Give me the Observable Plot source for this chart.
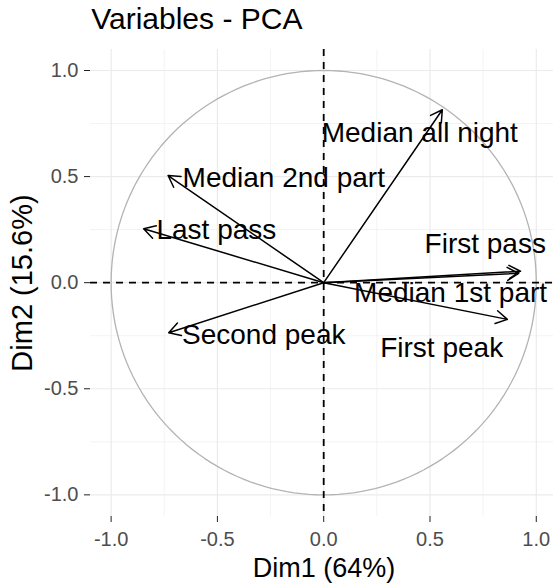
<!DOCTYPE html>
<html><head><meta charset="utf-8">
<script src="https://cdn.jsdelivr.net/npm/d3@7"></script>
<script src="https://cdn.jsdelivr.net/npm/@observablehq/plot@0.6"></script>
<style>body{margin:0;background:#fff;}</style>
</head><body><div id="chart"></div>
<script>
const variables = ["Median all night", "Median 2nd part", "Last pass", "First pass", "Median 1st part", "Second peak", "First peak"];
const dim1 = [0.558, -0.732, -0.847, 0.926, 0.917, -0.729, 0.864];
const dim2 = [0.815, 0.505, 0.254, 0.054, 0.044, -0.236, -0.173];
const labelDim1 = [0.452, -0.188, -0.505, 0.760, 0.597, -0.282, 0.555];
const labelDim2 = [0.703, 0.494, 0.247, 0.184, -0.051, -0.247, -0.307];
const axisTicks = [-1, -0.5, 0, 0.5, 1];
const minorTicks = [-0.75, -0.25, 0.25, 0.75];
const chartTitle = "Variables - PCA";
const xTitle = "Dim1 (64%)";
const yTitle = "Dim2 (15.6%)";

const rows = variables.map((name, i) => ({name, x: dim1[i], y: dim2[i], lx: labelDim1[i], ly: labelDim2[i]}));
const circle = d3.range(0, 361, 2).map(a => ({x: Math.cos(a * Math.PI / 180), y: Math.sin(a * Math.PI / 180)}));
const fmt = d => d.toFixed(1);

const chart = Plot.plot({
  width: 553, height: 584,
  marginLeft: 90, marginRight: 0, marginTop: 49, marginBottom: 68,
  x: {domain: [-1.097, 1.081]},
  y: {domain: [-1.102, 1.099]},
  style: {fontFamily: "Liberation Sans, Arial, sans-serif", background: "white"},
  marks: [
    Plot.ruleX(minorTicks, {stroke: "#EBEBEB", strokeWidth: 0.6}),
    Plot.ruleY(minorTicks, {stroke: "#EBEBEB", strokeWidth: 0.6}),
    Plot.ruleX(axisTicks, {stroke: "#EBEBEB", strokeWidth: 1.2}),
    Plot.ruleY(axisTicks, {stroke: "#EBEBEB", strokeWidth: 1.2}),
    Plot.line(circle, {x: "x", y: "y", stroke: "#B3B3B3", strokeWidth: 1.3}),
    Plot.ruleX([0], {stroke: "black", strokeWidth: 1.8, strokeDasharray: "7,6"}),
    Plot.ruleY([0], {stroke: "black", strokeWidth: 1.8, strokeDasharray: "7,6"}),
    Plot.arrow(rows, {x1: d => 0, y1: d => 0, x2: "x", y2: "y", stroke: "black", strokeWidth: 1.5, headLength: 13, headAngle: 60}),
    Plot.text(rows, {x: "lx", y: "ly", text: "name", fontSize: 28, fill: "black"}),
    Plot.axisX(axisTicks, {tickFormat: fmt, tickSize: 6, tickPadding: 9, fontSize: 20, fill: "#4D4D4D", stroke: "#222", label: null}),
    Plot.axisY(axisTicks, {tickFormat: fmt, tickSize: 6, tickPadding: 6, fontSize: 20, fill: "#4D4D4D", stroke: "#222", label: null}),
    Plot.text([chartTitle], {frameAnchor: "top-left", textAnchor: "start", lineAnchor: "middle", dx: 0.7, dy: -30.3, fontSize: 30, fill: "black"}),
    Plot.text([xTitle], {frameAnchor: "bottom", textAnchor: "middle", lineAnchor: "middle", dx: 2, dy: 52, fontSize: 27, fill: "black"}),
    Plot.text([yTitle], {frameAnchor: "left", textAnchor: "middle", lineAnchor: "middle", rotate: -90, dx: -67.6, fontSize: 29, fill: "black"})
  ]
});
document.getElementById("chart").appendChild(chart);
</script>
</body></html>
